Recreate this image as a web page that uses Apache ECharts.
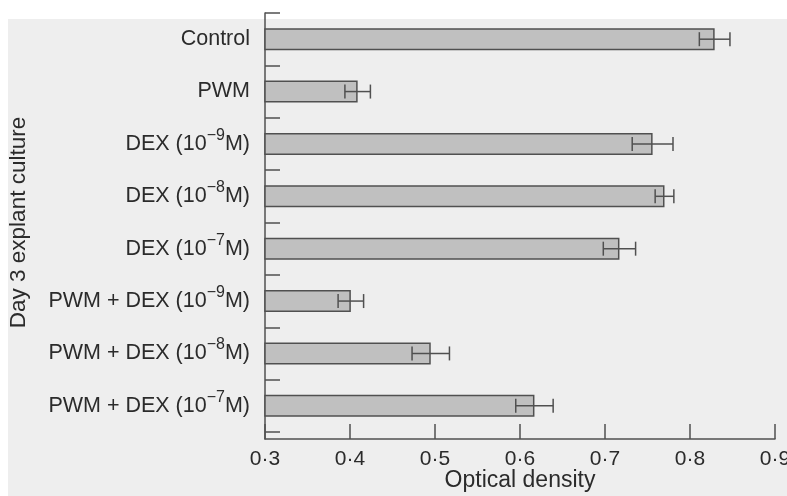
<!DOCTYPE html>
<html>
<head>
<meta charset="utf-8">
<script src="https://cdn.jsdelivr.net/npm/echarts@6/dist/echarts.min.js"></script>
<style>
html,body{margin:0;padding:0;background:#fff;}
#c{width:787px;height:496px;}
</style>
</head>
<body>
<div id="c"></div>
<script>
// ---- data ----
var categories = ['Control', 'PWM', 'DEX (10^-9M)', 'DEX (10^-8M)', 'DEX (10^-7M)',
  'PWM + DEX (10^-9M)', 'PWM + DEX (10^-8M)', 'PWM + DEX (10^-7M)'];
var meanValues = [0.829, 0.409, 0.756, 0.770, 0.717, 0.401, 0.495, 0.617];
var errValues  = [0.018, 0.015, 0.024, 0.011, 0.019, 0.015, 0.022, 0.022];
var xTicks = [0.3, 0.4, 0.5, 0.6, 0.7, 0.8, 0.9];
var xMin = 0.3, xMax = 0.9, xStep = 0.1;

var chart = echarts.init(document.getElementById('c'), null, {renderer: 'canvas'});
var FONT = '"Liberation Sans", Arial, Helvetica, sans-serif';
var ink = '#2b2b2b';
var lineCol = '#505050';

var errData = meanValues.map(function (v, i) { return [i, v, errValues[i]]; });

function fmtLabel(s) {
  return s.replace(/\^-(\d+)/, function (m, d) { return '{s|\u2212' + d + '}'; });
}

var option = {
  backgroundColor: '#ffffff',
  animation: false,
  graphic: [{
    type: 'rect', left: 8, top: 19, z: -10,
    shape: {width: 787, height: 496},
    style: {fill: '#eeeeee'}, silent: true
  }],
  grid: [
    {left: 265, top: 13, width: 510, height: 419, containLabel: false, outerBoundsMode: 'none'},
    {left: 265, top: 13, width: 510, height: 426, containLabel: false, outerBoundsMode: 'none'}
  ],
  xAxis: [
    {gridIndex: 0, type: 'value', min: xMin, max: xMax, interval: xStep, show: false},
    {
      gridIndex: 1, type: 'value', min: xMin, max: xMax, interval: xStep,
      name: 'Optical density', nameLocation: 'middle', nameGap: 30, nameMoveOverlap: false,
      nameTextStyle: {fontFamily: FONT, fontSize: 23, color: ink},
      axisLine: {show: true, lineStyle: {color: lineCol, width: 1.5}},
      axisTick: {show: true, inside: true, length: 15, lineStyle: {color: lineCol, width: 1.5}},
      splitLine: {show: false},
      axisLabel: {
        margin: 10, fontFamily: FONT, fontSize: 21, color: ink,
        formatter: function (v) {
          var idx = xTicks.findIndex(function (t) { return Math.abs(t - v) < 1e-9; });
          return idx >= 0 ? xTicks[idx].toFixed(1).replace('.', '\u00B7') : '';
        }
      }
    }
  ],
  yAxis: [
    {
      gridIndex: 0, type: 'category', data: categories, inverse: true,
      axisLine: {show: false},
      axisTick: {show: true, inside: true, length: 15, lineStyle: {color: lineCol, width: 1.5}},
      axisLabel: {
        margin: 15, fontFamily: FONT, fontSize: 21.5, color: ink,
        formatter: fmtLabel,
        rich: {
          s: {fontFamily: FONT, fontSize: 16, color: ink, padding: [0, 0, 17, 0]}
        }
      },
      name: 'Day 3 explant culture', nameLocation: 'middle', nameRotate: 90, nameGap: 235,
      nameMoveOverlap: false,
      nameTextStyle: {fontFamily: FONT, fontSize: 22.5, color: ink}
    },
    {
      gridIndex: 1, type: 'value', min: 0, max: 1,
      axisLine: {show: true, lineStyle: {color: lineCol, width: 1.5}},
      axisTick: {show: false}, axisLabel: {show: false}, splitLine: {show: false}
    }
  ],
  series: [
    {
      type: 'bar', xAxisIndex: 0, yAxisIndex: 0,
      data: meanValues, barWidth: 22,
      itemStyle: {color: '#c0c0c0', borderColor: '#505050', borderWidth: 1.5}
    },
    {
      type: 'custom', xAxisIndex: 0, yAxisIndex: 0, data: errData, z: 5,
      renderItem: function (params, api) {
        var c = api.value(0), v = api.value(1), e = api.value(2);
        var lo = api.coord([v - e, c]);
        var hi = api.coord([v + e, c]);
        var h = 7;
        var st = {stroke: '#505050', lineWidth: 1.5, fill: null};
        return {
          type: 'group',
          children: [
            {type: 'line', shape: {x1: lo[0], y1: lo[1], x2: hi[0], y2: hi[1]}, style: st},
            {type: 'line', shape: {x1: lo[0], y1: lo[1] - h, x2: lo[0], y2: lo[1] + h}, style: st},
            {type: 'line', shape: {x1: hi[0], y1: hi[1] - h, x2: hi[0], y2: hi[1] + h}, style: st}
          ]
        };
      }
    }
  ]
};
chart.setOption(option);
</script>
</body>
</html>
